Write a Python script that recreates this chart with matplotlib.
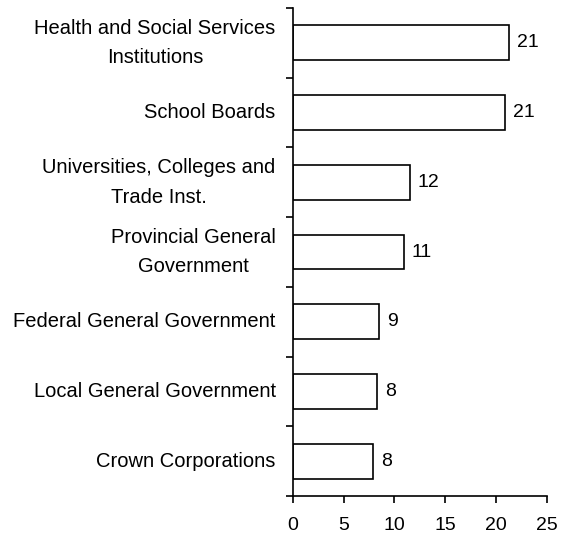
import matplotlib
matplotlib.use("Agg")
import matplotlib.pyplot as plt

categories = ["Health and Social Services\nInstitutions", "School Boards",
              "Universities, Colleges and\nTrade Inst.", "Provincial General\nGovernment",
              "Federal General Government", "Local General Government", "Crown Corporations"]
values = [21.3, 20.9, 11.5, 10.9, 8.5, 8.3, 7.9]
labels = ["21", "21", "12", "11", "9", "8", "8"]
xticks = [0, 5, 10, 15, 20, 25]

FS = 14
plt.rcParams['font.family'] = ['Liberation Sans', 'DejaVu Sans']
fig = plt.figure(figsize=(5.63, 5.42), dpi=100)
ax = fig.add_axes([293/563, 1-496/542, (546.7-293)/563, (496-8)/542])

n = len(categories)
pos = list(range(n))[::-1]
ax.barh(pos, values, height=0.5, color='white', edgecolor='black', linewidth=1.2)
for p, v, l in zip(pos, values, labels):
    ax.text(v + 0.75, p, l, va='center', ha='left', fontsize=FS)

ax.set_xlim(0, 25)
ax.set_ylim(-0.5, n - 0.5)
ax.set_xticks(xticks)
ax.set_xticklabels([str(x) for x in xticks], fontsize=FS)
ax.tick_params(axis='x', length=5, width=1.2, pad=10, direction='out')

# category labels centered between boundary ticks
ax.set_yticks([i - 0.5 for i in range(n + 1)])
ax.set_yticklabels([])
ax.tick_params(axis='y', length=5, width=1.2, direction='out')
for p, c in zip(pos, categories):
    ax.text(-1.7, p, c, ha='right', va='center', multialignment='center',
            fontsize=14.5, linespacing=1.7)

for s in ['top', 'right']:
    ax.spines[s].set_visible(False)
for s in ['left', 'bottom']:
    ax.spines[s].set_linewidth(1.2)

fig.savefig("out.png", dpi=100)
